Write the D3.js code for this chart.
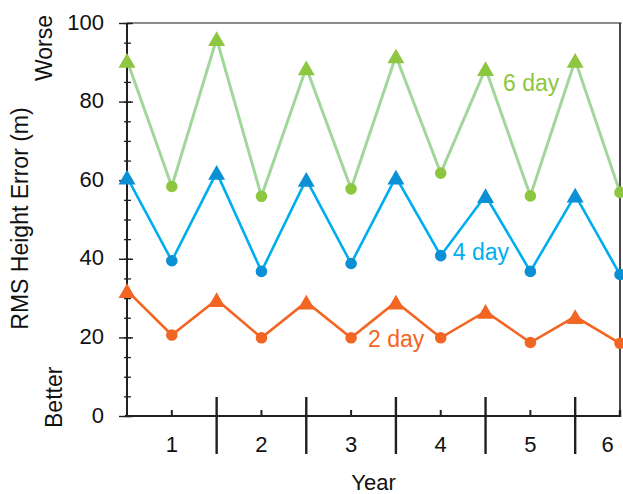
<!DOCTYPE html>
<html>
<head>
<meta charset="utf-8">
<script src="https://cdn.jsdelivr.net/npm/d3@7"></script>
<style>
  html, body { margin: 0; padding: 0; background: #fff; }
  svg { display: block; font-family: "Liberation Sans", Arial, Helvetica, sans-serif; }
</style>
</head>
<body>
<svg id="chart" width="623" height="494"></svg>
<script>
// Half-year sample points (index 0..11); triangles at year starts, circles mid-year
const sampleIndex = [0, 1, 2, 3, 4, 5, 6, 7, 8, 9, 10, 11];
const years = ["1", "2", "3", "4", "5", "6"];
const yTicks = [0, 20, 40, 60, 80, 100];

const sixDay  = [90.5, 58.4, 96.0, 55.9, 88.6, 57.8, 91.6, 61.8, 88.4, 56.0, 90.5, 56.9];
const fourDay = [60.8, 39.5, 62.0, 36.8, 60.2, 38.8, 60.8, 40.8, 56.1, 36.8, 56.2, 36.0];
const twoDay  = [31.9, 20.6, 29.6, 19.9, 29.0, 19.9, 29.0, 19.9, 26.6, 18.7, 25.3, 18.5];

const series = [
  { name: "6 day", values: sixDay,  line: "#a3d69c", mark: "#8dc63f", text: "#8dc63f", lw: 3,   lab: { i: 8.39, v: 82.7 } },
  { name: "4 day", values: fourDay, line: "#00aeef", mark: "#0b8fd5", text: "#00aeef", lw: 2.6, lab: { i: 7.27, v: 39.7 } },
  { name: "2 day", values: twoDay,  line: "#f26522", mark: "#f26522", text: "#f26522", lw: 2.6, lab: { i: 5.38, v: 17.6 } }
];

const svg = d3.select("#chart");
const ink = "#231f20";

const x = d3.scaleLinear().domain([0, 11]).range([127, 620]);
const y = d3.scaleLinear().domain([0, 100]).range([416, 23]);

// Frame: thin grey top edge, dark right edge
svg.append("line").attr("x1", x(0)).attr("x2", x(11) + 1.5).attr("y1", y(100)).attr("y2", y(100))
  .attr("stroke", "#666").attr("stroke-width", 1.6);
svg.append("line").attr("x1", x(11)).attr("x2", x(11)).attr("y1", y(100)).attr("y2", y(0))
  .attr("stroke", "#333").attr("stroke-width", 1.8);

// Y axis: minor ticks every 5, major every 20 crossing the axis line
const yMinor = d3.axisLeft(y).tickValues(d3.range(0, 101, 5)).tickSize(4).tickFormat("");
const gMinor = svg.append("g").attr("transform", `translate(${x(0)},0)`).call(yMinor);
gMinor.select(".domain").remove();
gMinor.selectAll(".tick line").attr("x1", 4).attr("x2", -3).attr("stroke", ink).attr("stroke-width", 1.3);

const yAxis = d3.axisLeft(y).tickValues(yTicks).tickSize(8).tickPadding(15).tickFormat(d3.format("d"));
const gY = svg.append("g").attr("transform", `translate(${x(0)},0)`).call(yAxis);
gY.select(".domain").attr("d", `M0,${y(100)}V${y(0)}`).attr("stroke", ink).attr("stroke-width", 2);
gY.selectAll(".tick line").attr("x1", 6).attr("stroke", ink).attr("stroke-width", 1.4);
gY.selectAll(".tick text").attr("font-size", 22).attr("fill", "#111").attr("dy", "0.28em");

// X axis: year separators and mid-year ticks
svg.append("line").attr("x1", x(0) - 2).attr("x2", x(11) + 1).attr("y1", y(0)).attr("y2", y(0))
  .attr("stroke", ink).attr("stroke-width", 2);
svg.append("g").selectAll("line").data(sampleIndex.filter(i => i % 2 === 0 && i > 0 && i < 11))
  .join("line")
  .attr("x1", d => x(d)).attr("x2", d => x(d))
  .attr("y1", y(0) - 19).attr("y2", y(0) + 38)
  .attr("stroke", ink).attr("stroke-width", 2.4);
svg.append("g").selectAll("line").data(sampleIndex.filter(i => i % 2 === 1 && i < 11))
  .join("line")
  .attr("x1", d => x(d)).attr("x2", d => x(d))
  .attr("y1", y(0) - 6).attr("y2", y(0))
  .attr("stroke", ink).attr("stroke-width", 2);
svg.append("line").attr("x1", x(11)).attr("x2", x(11)).attr("y1", y(0) - 6).attr("y2", y(0) + 1)
  .attr("stroke", ink).attr("stroke-width", 2.4);

// Year labels centred in each year span (last year is only half shown)
svg.append("g").selectAll("text").data(years).join("text")
  .attr("x", (d, i) => i < 5 ? x(2 * i + 1) : (x(10) + x(11)) / 2 + 10)
  .attr("y", 452)
  .attr("text-anchor", "middle")
  .attr("font-size", 22).attr("fill", "#111")
  .text(d => d);

// Axis titles
svg.append("text").attr("x", (x(0) + x(11)) / 2).attr("y", 490)
  .attr("text-anchor", "middle").attr("font-size", 22).attr("fill", "#111").text("Year");
svg.append("text").attr("transform", `translate(28,${(y(0) + y(100)) / 2 - 1}) rotate(-90)`)
  .attr("text-anchor", "middle").attr("font-size", 23).attr("fill", "#111").text("RMS Height Error (m)");
svg.append("text").attr("transform", `translate(52,15) rotate(-90)`)
  .attr("text-anchor", "end").attr("font-size", 23).attr("fill", "#111").text("Worse");
svg.append("text").attr("transform", `translate(62,428) rotate(-90)`)
  .attr("text-anchor", "start").attr("font-size", 23).attr("fill", "#111").text("Better");

// Triangle marker centred on its bounding box
const triangle = {
  draw(ctx, size) {
    const w = Math.sqrt(size * 4 / Math.sqrt(3));
    const h = w * Math.sqrt(3) / 2;
    ctx.moveTo(0, -h / 2);
    ctx.lineTo(w / 2, h / 2);
    ctx.lineTo(-w / 2, h / 2);
    ctx.closePath();
  }
};
const triPath = d3.symbol(triangle, 17 * 17 * Math.sqrt(3) / 4)();

const line = d3.line().x((d, i) => x(sampleIndex[i])).y(d => y(d));

series.forEach(s => {
  const g = svg.append("g");
  g.append("path").attr("d", line(s.values))
    .attr("fill", "none").attr("stroke", s.line).attr("stroke-width", s.lw)
    .attr("stroke-linejoin", "miter");
  g.selectAll("path.m").data(s.values).join("path")
    .attr("class", "m")
    .attr("transform", (d, i) => `translate(${x(sampleIndex[i])},${y(d)})`)
    .attr("d", (d, i) => i % 2 === 0 ? triPath : d3.symbol(d3.symbolCircle, Math.PI * 5.8 * 5.8)())
    .attr("fill", s.mark);
  svg.append("text")
    .attr("x", x(s.lab.i)).attr("y", y(s.lab.v))
    .attr("font-size", 23).attr("fill", s.text)
    .text(s.name);
});
</script>
</body>
</html>
